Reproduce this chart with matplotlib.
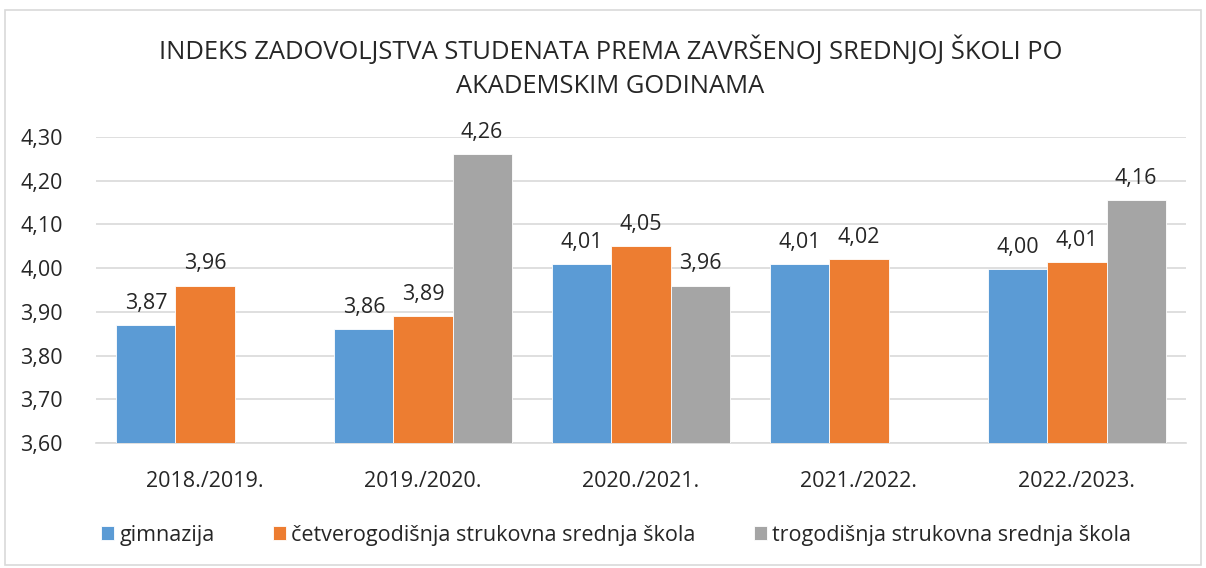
import numpy as np
import matplotlib.pyplot as plt
from matplotlib.patches import Rectangle

plt.rcParams['font.family'] = ['Open Sans', 'DejaVu Sans']

years = ['2018./2019.', '2019./2020.', '2020./2021.', '2021./2022.', '2022./2023.']
gimnazija = [3.87, 3.86, 4.01, 4.01, 3.997]
cetverogodisnja = [3.96, 3.89, 4.05, 4.02, 4.014]
trogodisnja = [np.nan, 4.26, 3.96, np.nan, 4.155]
series_names = ['gimnazija', 'četverogodišnja strukovna srednja škola',
                'trogodišnja strukovna srednja škola']
colors = ['#5B9BD5', '#ED7D31', '#A5A5A5']
yticks = [3.60, 3.70, 3.80, 3.90, 4.00, 4.10, 4.20, 4.30]

txt = '#262626'
fs = 15.5

fig = plt.figure(figsize=(12.06, 5.68), dpi=100)
ax = fig.add_axes([0.0796, 0.22, 0.9038, 0.539])

x = np.arange(len(years))
w = 0.271
for i, (vals, name, c) in enumerate(zip([gimnazija, cetverogodisnja, trogodisnja], series_names, colors)):
    pos = x + (i - 1) * w
    bars = ax.bar(pos, np.array(vals) - 3.6, bottom=3.6, width=w, color=c,
                  label=name, zorder=3, edgecolor='white', linewidth=0.6)
    for p, v in zip(pos, vals):
        if not np.isnan(v):
            ax.annotate(f'{v:.2f}'.replace('.', ','), (p, v), xytext=(0, 8),
                        textcoords='offset points', ha='center', va='bottom',
                        fontsize=fs, color=txt)

ax.set_ylim(3.6, 4.3)
ax.set_xlim(-0.5, len(years) - 0.5)
ax.set_yticks(yticks)
ax.set_yticklabels([f'{t:.2f}'.replace('.', ',') for t in yticks], fontsize=fs, color=txt)
ax.set_xticks(x)
ax.set_xticklabels(years, fontsize=fs, color=txt)
ax.tick_params(length=0, axis='y', pad=24)
ax.tick_params(length=0, axis='x', pad=20)
ax.grid(axis='y', color='#D9D9D9', linewidth=1.2, zorder=0)
for s in ['top', 'right', 'left']:
    ax.spines[s].set_visible(False)
ax.spines['bottom'].set_color('#D9D9D9')
ax.spines['bottom'].set_linewidth(1.2)

fig.text(0.506, 0.912, 'INDEKS ZADOVOLJSTVA STUDENATA PREMA ZAVRŠENOJ SREDNJOJ ŠKOLI PO',
         ha='center', va='center', fontsize=18.4, color=txt)
fig.text(0.506, 0.847, 'AKADEMSKIM GODINAMA', ha='center', va='center', fontsize=18.4, color=txt)

fig.legend(loc='center', bbox_to_anchor=(0.511, 0.058), ncol=3, frameon=False,
           fontsize=fs, handlelength=0.6, handleheight=0.6, handletextpad=0.25,
           columnspacing=2.7, labelcolor=txt)

fig.patches.append(Rectangle((0.004, 0.005), 0.992, 0.977, transform=fig.transFigure,
                             fill=False, edgecolor='#D9D9D9', linewidth=1.2))

fig.savefig('out.png', dpi=100)
